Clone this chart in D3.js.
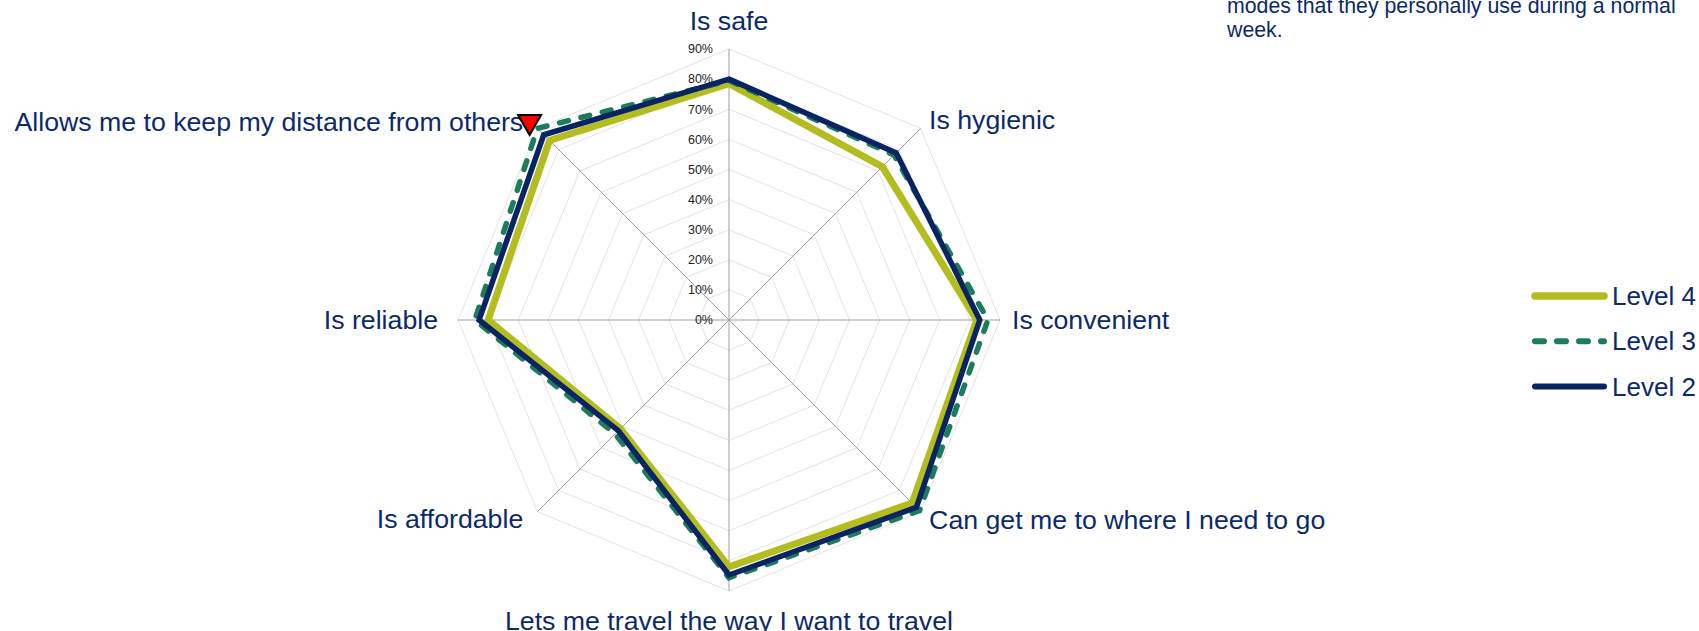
<!DOCTYPE html>
<html>
<head>
<meta charset="utf-8">
<script src="https://cdn.jsdelivr.net/npm/d3@7"></script>
<style>
  body { margin: 0; background: #fff; }
  svg { display: block; font-family: "Liberation Sans", Arial, sans-serif; }
</style>
</head>
<body>
<div id="radar"></div>
<script>
const categories = [
  'Is safe',
  'Is hygienic',
  'Is convenient',
  'Can get me to where I need to go',
  'Lets me travel the way I want to travel',
  'Is affordable',
  'Is reliable',
  'Allows me to keep my distance from others'
];

// values (share of respondents)
const level4 = [0.785, 0.72, 0.823, 0.86, 0.82, 0.51, 0.80, 0.843];
const level3 = [0.795, 0.775, 0.86, 0.895, 0.856, 0.535, 0.844, 0.90];
const level2 = [0.80, 0.785, 0.833, 0.88, 0.847, 0.52, 0.83, 0.87];

const tickValues = [0, 0.1, 0.2, 0.3, 0.4, 0.5, 0.6, 0.7, 0.8, 0.9];
const seriesNames = ['Level 4', 'Level 3', 'Level 2'];
// Level 3 point flagged with the red triangle
const flagged = [{ series: 'Level 3', category: 'Allows me to keep my distance from others' }];

const noteLines = ['modes that they personally use during a normal', 'week.'];

const width = 1699;
const height = 631;
const cx = 729;
const cy = 320;
const outer = 271;

const navy = '#0b2a6b';
const styles = {
  'Level 4': { color: '#b3bd1f', width: 7, dash: null },
  'Level 3': { color: '#1b7d5b', width: 5.5, dash: '9 13' },
  'Level 2': { color: '#0a2463', width: 5.5, dash: null }
};

const series = [
  { name: 'Level 4', values: level4 },
  { name: 'Level 3', values: level3 },
  { name: 'Level 2', values: level2 }
];

const svg = d3.select('#radar')
  .append('svg')
  .attr('width', width)
  .attr('height', height);

const r = d3.scaleLinear().domain([0, 0.9]).range([0, outer]);
// 8 axes spread evenly, first one straight up
const step = 2 * Math.PI / categories.length;
const ang = c => categories.indexOf(c) * step;

const px = (a, rad) => cx + rad * Math.sin(a);
const py = (a, rad) => cy - rad * Math.cos(a);

const g = svg.append('g');

// rings
g.append('g')
  .selectAll('polygon')
  .data(tickValues.filter(t => t > 0))
  .join('polygon')
    .attr('points', t => categories.map(c => [px(ang(c), r(t)), py(ang(c), r(t))].join(',')).join(' '))
    .attr('fill', 'none')
    .attr('stroke', '#e3e3e3')
    .attr('stroke-width', 1);

// spokes
g.append('g')
  .selectAll('line')
  .data(categories)
  .join('line')
    .attr('x1', cx)
    .attr('y1', cy)
    .attr('x2', c => px(ang(c), r(0.9)))
    .attr('y2', c => py(ang(c), r(0.9)))
    .attr('stroke', '#a0a0a0')
    .attr('stroke-width', 1);

// tick labels on the vertical axis
g.append('g')
  .selectAll('text')
  .data(tickValues)
  .join('text')
    .attr('x', cx - 16)
    .attr('y', t => cy - r(t))
    .attr('dy', '0.35em')
    .attr('text-anchor', 'end')
    .attr('font-size', '12.5px')
    .attr('fill', '#222')
    .text(d3.format('.0%'));

// category labels
const side = c => {
  const s = Math.sin(ang(c));
  return s > 0.1 ? 'start' : s < -0.1 ? 'end' : 'middle';
};
const padX = c => side(c) === 'end' ? 20 : side(c) === 'start' ? 12 : 14;
const padY = c => side(c) === 'end' ? 10 : side(c) === 'start' ? 12 : 14;

g.append('g')
  .selectAll('text')
  .data(categories)
  .join('text')
    .attr('x', c => px(ang(c), outer + padX(c)))
    .attr('y', c => py(ang(c), outer + padY(c)))
    .attr('text-anchor', side)
    .attr('dy', c => {
      const co = Math.cos(ang(c));
      return co > 0.9 ? '-0.2em' : co < -0.9 ? '0.95em' : '0.35em';
    })
    .attr('font-size', '26.7px')
    .attr('fill', navy)
    .text(c => c);

// series lines
const line = d3.lineRadial()
  .angle((d, i) => i * step)
  .radius(d => r(d))
  .curve(d3.curveLinearClosed);

g.append('g')
  .attr('transform', `translate(${cx},${cy})`)
  .selectAll('path')
  .data(series)
  .join('path')
    .attr('d', d => line(d.values))
    .attr('fill', 'none')
    .attr('stroke', d => styles[d.name].color)
    .attr('stroke-width', d => styles[d.name].width)
    .attr('stroke-dasharray', d => styles[d.name].dash)
    .attr('stroke-linecap', d => styles[d.name].dash ? 'round' : 'butt')
    .attr('stroke-linejoin', 'miter');

// significance marker
g.append('g')
  .selectAll('path')
  .data(flagged)
  .join('path')
    .attr('d', d3.symbol(d3.symbolTriangle, 230))
    .attr('transform', d => {
      const s = series.find(x => x.name === d.series);
      const a = ang(d.category);
      const rad = r(s.values[categories.indexOf(d.category)]) + 11;
      return `translate(${px(a, rad)},${py(a, rad) + 1}) rotate(180)`;
    })
    .attr('fill', '#ff0000')
    .attr('stroke', '#000')
    .attr('stroke-width', 2);

// legend
const legend = svg.append('g')
  .attr('transform', 'translate(1532,296)')
  .selectAll('g')
  .data(seriesNames)
  .join('g')
    .attr('transform', (d, i) => `translate(0,${i * 45.3})`);

legend.append('line')
  .attr('x1', 3)
  .attr('x2', 72)
  .attr('stroke', d => styles[d].color)
  .attr('stroke-width', d => d === 'Level 4' ? 7.5 : 6)
  .attr('stroke-dasharray', d => styles[d].dash)
  .attr('stroke-linecap', 'round');

legend.append('text')
  .attr('x', 80)
  .attr('dy', '0.35em')
  .attr('font-size', '26px')
  .attr('fill', navy)
  .text(d => d);

// note text, top right (clipped by the top edge)
svg.append('g')
  .selectAll('text')
  .data(noteLines)
  .join('text')
    .attr('x', 1227)
    .attr('y', (d, i) => 12.5 + i * 24.4)
    .attr('font-size', '21.3px')
    .attr('fill', navy)
    .text(d => d);
</script>
</body>
</html>
